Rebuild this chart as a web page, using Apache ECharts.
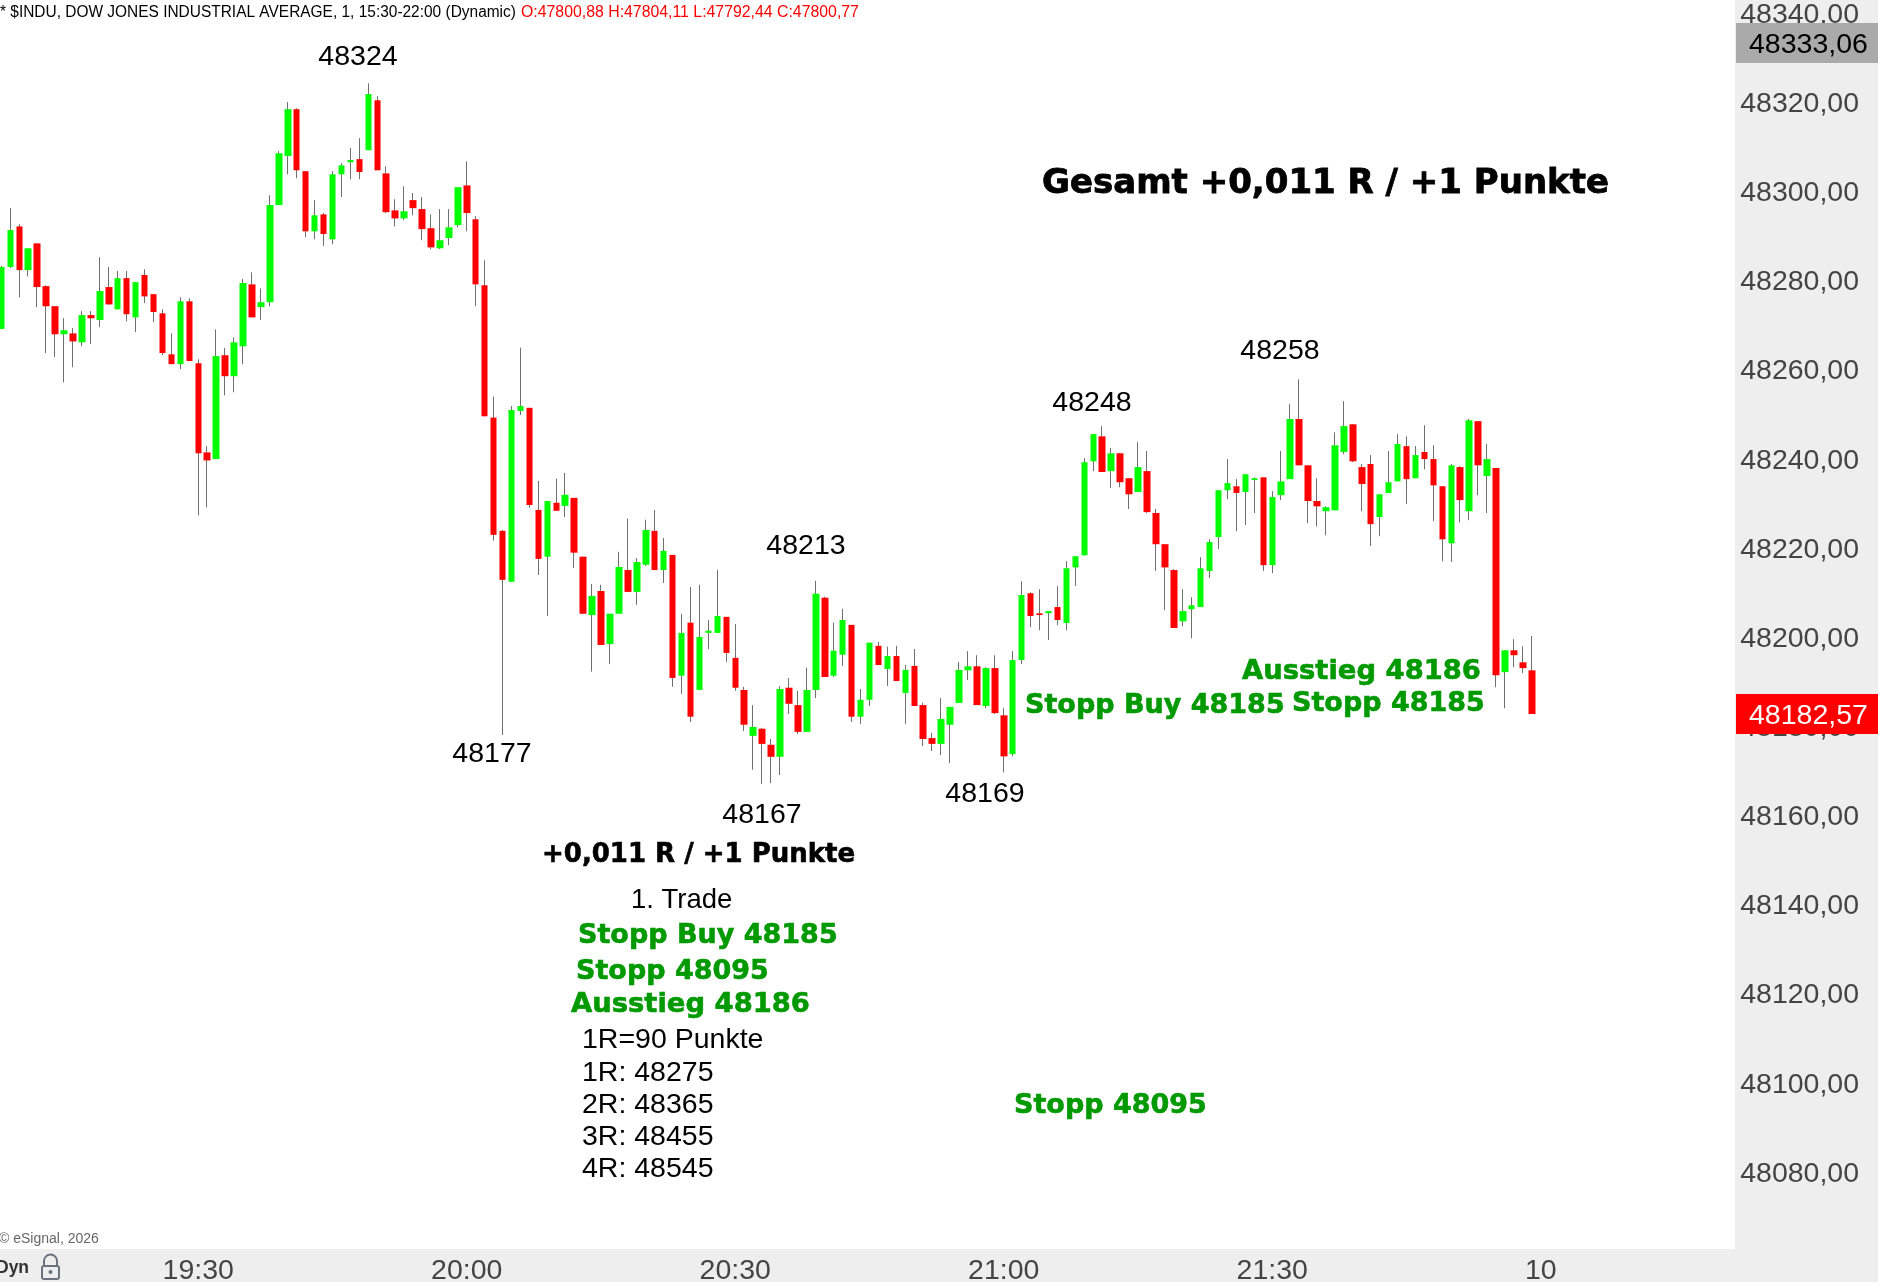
<!DOCTYPE html>
<html><head><meta charset="utf-8">
<style>html,body{margin:0;padding:0;background:#fff;overflow:hidden}#c{width:1878px;height:1282px}</style>
<script src="https://cdn.jsdelivr.net/npm/echarts@6/dist/echarts.min.js"></script>
</head><body><div id="c"></div>
<script>
const opens=[48269.0,48282.9,48292.0,48282.2,48288.2,48278.6,48274.1,48267.8,48268.0,48266.0,
48272.1,48271.0,48278.4,48273.4,48280.4,48271.6,48281.1,48276.8,48272.5,48263.3,
48261.1,48275.2,48261.3,48241.3,48239.8,48263.1,48258.4,48265.1,48279.0,48273.9,
48275.0,48296.8,48307.8,48318.3,48304.4,48290.9,48294.7,48289.1,48303.7,48306.4,
48307.1,48309.1,48320.3,48303.9,48295.6,48293.8,48297.9,48295.9,48291.6,48287.1,
48289.4,48292.3,48301.2,48293.6,48278.8,48249.1,48223.7,48212.3,48250.6,48251.3,
48228.4,48217.9,48230.0,48229.3,48231.1,48217.9,48204.8,48210.2,48198.3,48205.1,
48214.9,48210.0,48216.1,48223.7,48214.9,48218.3,48191.2,48203.1,48188.0,48200.8,
48200.8,48204.4,48195.2,48188.0,48177.7,48179.3,48175.7,48173.0,48188.5,48184.6,
48178.6,48188.0,48208.7,48191.2,48195.9,48202.6,48182.0,48185.8,48197.9,48192.7,
48195.6,48187.3,48193.4,48184.6,48177.2,48175.9,48180.2,48185.1,48192.4,48193.3,
48184.4,48192.9,48182.3,48173.6,48194.7,48209.7,48205.2,48205.2,48206.6,48203.0,
48215.5,48218.2,48239.3,48244.9,48237.1,48241.1,48235.5,48232.4,48237.1,48227.7,
48220.7,48214.9,48203.4,48206.1,48206.6,48214.7,48222.3,48232.8,48233.7,48232.4,
48235.1,48235.7,48216.0,48231.7,48235.3,48248.8,48238.4,48230.4,48228.1,48228.3,
48241.4,48247.6,48238.0,48238.7,48226.8,48232.2,48234.8,48242.7,48235.5,48241.4,
48239.8,48233.7,48220.9,48238.0,48228.1,48248.3,48236.0,48237.8,48192.0,48196.9,
48194.2,48192.4];
const closes=[48282.9,48291.2,48282.2,48287.1,48278.4,48274.1,48267.8,48268.7,48266.2,48272.1,
48271.4,48277.5,48274.5,48280.4,48272.3,48279.5,48276.3,48272.8,48263.6,48261.1,
48275.2,48261.8,48241.1,48239.5,48262.9,48258.4,48266.0,48279.3,48271.6,48275.0,
48296.8,48308.4,48318.3,48304.6,48290.9,48294.5,48290.3,48303.7,48305.7,48306.9,
48304.2,48321.7,48304.6,48295.2,48293.8,48295.4,48296.1,48291.4,48287.3,48288.9,
48291.8,48300.8,48295.0,48279.0,48249.4,48222.8,48212.7,48250.8,48251.7,48229.5,
48217.4,48230.4,48228.2,48231.8,48218.8,48205.1,48209.1,48198.1,48205.1,48215.6,
48210.0,48216.7,48223.9,48214.9,48219.2,48190.7,48200.8,48182.0,48199.9,48201.3,
48204.6,48196.3,48188.5,48180.2,48179.7,48175.9,48173.0,48188.2,48184.9,48178.6,
48188.0,48209.6,48190.9,48196.8,48203.7,48182.0,48185.8,48198.6,48193.6,48195.6,
48190.0,48192.5,48184.4,48177.0,48175.9,48181.5,48184.2,48192.5,48193.3,48184.6,
48192.9,48182.8,48173.1,48194.7,48209.3,48204.6,48204.8,48205.7,48203.7,48215.3,
48218.0,48239.1,48245.4,48236.9,48241.1,48234.6,48231.9,48238.0,48227.9,48220.7,
48215.5,48201.9,48205.7,48207.0,48215.3,48221.2,48232.8,48234.4,48232.2,48236.4,
48235.5,48216.0,48231.3,48234.8,48248.8,48238.4,48230.4,48229.2,48229.0,48242.9,
48247.2,48239.3,48234.2,48225.2,48231.9,48234.6,48243.2,48235.3,48240.7,48239.8,
48233.9,48221.8,48238.4,48230.6,48248.5,48238.4,48239.8,48191.3,48196.9,48195.8,
48192.9,48182.6];
const lows=[48269.0,48282.7,48276.1,48280.8,48273.9,48263.6,48262.7,48257.0,48260.4,48265.1,
48265.6,48269.4,48274.5,48273.4,48270.7,48268.3,48274.8,48270.5,48263.1,48261.1,
48260.0,48261.8,48227.2,48229.0,48239.8,48254.1,48254.8,48261.1,48271.6,48271.0,
48274.1,48296.8,48303.7,48302.8,48289.6,48289.1,48287.6,48288.0,48298.6,48302.6,
48302.6,48309.1,48304.6,48295.0,48292.0,48293.4,48294.5,48288.9,48286.9,48286.9,
48287.8,48291.8,48290.9,48274.1,48249.4,48221.5,48177.9,48212.3,48249.7,48228.9,
48213.8,48204.6,48228.2,48226.8,48215.4,48205.1,48192.1,48198.1,48193.8,48205.1,
48210.0,48207.1,48215.8,48214.9,48212.0,48188.7,48187.1,48180.8,48188.0,48197.2,
48200.8,48194.3,48187.8,48178.8,48170.1,48166.9,48167.1,48168.9,48182.6,48178.1,
48178.6,48186.2,48190.9,48190.9,48193.4,48180.8,48180.4,48184.4,48193.6,48188.9,
48190.0,48180.4,48184.4,48175.4,48174.3,48173.4,48171.6,48185.1,48190.2,48184.6,
48183.9,48182.6,48169.5,48173.1,48193.8,48202.1,48201.4,48199.2,48202.5,48201.4,
48211.3,48218.2,48237.1,48236.9,48233.3,48233.5,48228.6,48232.4,48227.7,48214.7,
48205.9,48201.9,48202.3,48199.6,48206.6,48213.1,48219.6,48230.8,48223.6,48225.0,
48227.7,48214.7,48214.2,48230.6,48235.3,48238.4,48225.4,48224.7,48222.7,48228.3,
48240.9,48239.1,48228.1,48220.3,48222.5,48232.2,48234.8,48229.7,48235.5,48237.5,
48225.9,48216.9,48216.7,48225.6,48226.1,48231.7,48227.7,48188.6,48183.9,48193.1,
48191.8,48182.6];
const highs=[48283.1,48296.1,48292.5,48287.1,48288.2,48278.8,48274.1,48271.4,48269.2,48273.0,
48273.0,48285.1,48282.9,48282.0,48282.0,48279.5,48282.4,48276.8,48273.4,48268.0,
48276.1,48275.9,48262.2,48242.7,48268.9,48264.7,48267.1,48280.2,48281.7,48278.1,
48299.0,48308.9,48319.9,48318.5,48304.4,48297.9,48295.0,48304.4,48306.2,48309.6,
48311.8,48324.1,48321.2,48305.5,48298.1,48301.0,48299.5,48298.6,48294.7,48295.9,
48295.9,48300.8,48306.6,48294.3,48284.4,48253.8,48223.9,48251.7,48264.8,48251.3,
48234.9,48230.4,48235.4,48236.7,48231.1,48217.9,48211.8,48211.6,48205.1,48219.0,
48226.4,48217.6,48226.2,48228.4,48222.1,48218.3,48205.1,48211.1,48211.6,48203.7,
48214.9,48204.4,48202.8,48188.7,48184.6,48179.5,48177.0,48188.9,48190.7,48187.8,
48193.0,48212.5,48208.9,48203.1,48206.2,48202.6,48188.2,48198.6,48198.8,48197.7,
48197.9,48193.6,48197.2,48185.1,48178.4,48186.2,48184.2,48194.3,48196.7,48195.8,
48193.1,48195.8,48183.9,48196.7,48212.4,48209.9,48210.6,48205.7,48211.3,48216.9,
48218.0,48240.0,48245.4,48247.2,48242.3,48241.1,48235.5,48243.6,48241.6,48228.6,
48220.7,48215.1,48210.6,48208.8,48217.8,48221.8,48232.8,48239.8,48235.3,48236.4,
48235.7,48235.7,48232.6,48241.6,48252.1,48257.7,48238.4,48235.5,48229.2,48245.8,
48252.8,48247.6,48238.7,48240.7,48231.9,48241.6,48245.4,48244.9,48242.7,48247.4,
48242.9,48233.7,48238.7,48238.2,48248.8,48248.3,48243.2,48237.8,48196.9,48199.4,
48197.8,48200.1];
const timeTicks=['19:30','20:00','20:30','21:00','21:30','10'];
const categories=[];
for(let i=0;i<194;i++){const m=19*60+8+i;const h=Math.floor(m/60);const mm=m%60;
  const t=String(h).padStart(2,'0')+':'+String(mm).padStart(2,'0');categories.push(t==='22:00'?'10':t);}
const ohlc=opens.map((o,i)=>[o,closes[i],lows[i],highs[i]]);
const bodies=opens.map((o,i)=>[o,closes[i],Math.min(o,closes[i]),Math.max(o,closes[i])]);
const GREEN='#009900',SANS='"Liberation Sans"',BOLD='bold 27px "DejaVu Sans"';
function txt(text,x,y,font,fill,align,extra){return Object.assign({type:'text',x:x,y:y+2,z:8,silent:true,style:{text:text,font:font,fill:fill,align:align||'left',textAlign:align||'left',verticalAlign:'middle',textVerticalAlign:'middle'}},extra||{});}
function heavy(t,w){t.style.stroke=t.style.fill;t.style.lineWidth=w;return t;}
const PX='28.5px '+SANS;
const graphics=[
 {type:'rect',z:-1,silent:true,shape:{x:1735,y:0,width:143,height:1282},style:{fill:'#eeeeee'}},
 {type:'rect',z:-1,silent:true,shape:{x:0,y:1249,width:1878,height:33},style:{fill:'#eeeeee'}},
 {type:'rect',z:7,silent:true,shape:{x:1736,y:23,width:142,height:40},style:{fill:'#aaaaaa'}},
 {type:'rect',z:7,silent:true,shape:{x:1736,y:694,width:142,height:40},style:{fill:'#ff0000'}},
 txt('48333,06',1749,43,PX,'#000'),
 txt('48182,57',1749,714,PX,'#fff'),
 txt('* $INDU, DOW JONES INDUSTRIAL AVERAGE, 1, 15:30-22:00 (Dynamic)',0,11,'16px '+SANS,'#000','left',{scaleX:0.966}),
 txt('O:47800,88 H:47804,11 L:47792,44 C:47800,77',521,11,'16px '+SANS,'#ff0000','left',{scaleX:0.99}),
 txt('48324',358,55,PX,'#000','center'),
 txt('48258',1280,349,PX,'#000','center'),
 txt('48248',1092,401,PX,'#000','center'),
 txt('48213',806,544,PX,'#000','center'),
 txt('48177',492,752,PX,'#000','center'),
 txt('48167',762,813,PX,'#000','center'),
 txt('48169',985,792,PX,'#000','center'),
 heavy(txt('Gesamt +0,011 R / +1 Punkte',1042,182,'bold 34px "DejaVu Sans"','#000'),0.8),
 heavy(txt('+0,011 R / +1 Punkte',542,853,'bold 26px "DejaVu Sans"','#000'),0.6),
 txt('1. Trade',631,898,'27.5px '+SANS,'#000'),
 heavy(txt('Stopp Buy 48185',578,934,BOLD,GREEN),0.6),
 heavy(txt('Stopp 48095',576,970,BOLD,GREEN),0.6),
 heavy(txt('Ausstieg 48186',571,1003,BOLD,GREEN,'left',{scaleX:1.015}),0.6),
 txt('1R=90 Punkte',582,1038,PX,'#000'),
 txt('1R: 48275',582,1071,PX,'#000'),
 txt('2R: 48365',582,1103,PX,'#000'),
 txt('3R: 48455',582,1135,PX,'#000'),
 txt('4R: 48545',582,1167,PX,'#000'),
 heavy(txt('Stopp 48095',1014,1104,BOLD,GREEN),0.6),
 heavy(txt('Ausstieg 48186',1242,670,BOLD,GREEN,'left',{scaleX:1.015}),0.6),
 heavy(txt('Stopp Buy 48185',1025,704,BOLD,GREEN),0.6),
 heavy(txt('Stopp 48185',1292,702,BOLD,GREEN),0.6),
 txt('© eSignal, 2026',-1,1237,'14px '+SANS,'#666666'),
 txt('Dyn',-4,1266,'bold 17.5px '+SANS,'#333333'),
 {type:'rect',z:8,silent:true,shape:{x:42,y:1266,width:17,height:13,r:2},style:{fill:'none',stroke:'#6b7280',lineWidth:2}},
 {type:'arc',z:8,silent:true,shape:{cx:50.5,cy:1261,r:6.5,startAngle:Math.PI,endAngle:0,clockwise:true},style:{fill:'none',stroke:'#6b7280',lineWidth:2}},
 {type:'line',z:8,silent:true,shape:{x1:44,y1:1261,x2:44,y2:1266},style:{stroke:'#6b7280',lineWidth:2}},
 {type:'line',z:8,silent:true,shape:{x1:57,y1:1261,x2:57,y2:1266},style:{stroke:'#6b7280',lineWidth:2}},
 {type:'circle',z:8,silent:true,shape:{cx:50.5,cy:1272,r:2},style:{fill:'#6b7280'}}
];
const chart=echarts.init(document.getElementById('c'),null,{renderer:'canvas'});
chart.setOption({
 animation:false,backgroundColor:'#fff',tooltip:{show:false},legend:{show:false},
 grid:{left:-3.095,top:12.5,width:1736.3,height:1158.8,containLabel:false,outerBoundsMode:'none'},
 xAxis:{type:'category',data:categories,boundaryGap:true,axisLine:{show:false},axisTick:{show:false},splitLine:{show:false},z:3,
  axisLabel:{show:true,margin:85,fontSize:28.5,fontFamily:'Liberation Sans',color:'#444444',hideOverlap:false,
   interval:function(i,v){return timeTicks.indexOf(v)>=0;}}},
 yAxis:{type:'value',position:'right',min:48080,max:48340,interval:20,scale:true,axisLine:{show:false},axisTick:{show:false},splitLine:{show:false},z:3,
  axisLabel:{show:true,margin:7,fontSize:28.5,fontFamily:'Liberation Sans',color:'#444444',showMinLabel:true,showMaxLabel:true,
   formatter:function(v){return '{p|'+v.toFixed(2).replace('.',',')+'}';},
   rich:{p:{fontSize:28.5,fontFamily:'Liberation Sans',color:'#444444',padding:[5,0,0,0],lineHeight:32}}}},
 series:[
  {name:'Wicks',type:'candlestick',data:ohlc,barWidth:0.01,silent:true,clip:false,z:2,
   itemStyle:{color:'#707070',color0:'#707070',borderColor:'#707070',borderColor0:'#707070',borderColorDoji:'#707070',borderWidth:1}},
  {name:'Bodies',type:'candlestick',data:bodies,barWidth:7,silent:true,clip:false,z:4,
   itemStyle:{color:'#00ff00',color0:'#ff0000',borderColor:'#00ff00',borderColor0:'#ff0000',borderColorDoji:'#ff0000',borderWidth:0}}
 ],
 graphic:{elements:graphics}
});
</script></body></html>
